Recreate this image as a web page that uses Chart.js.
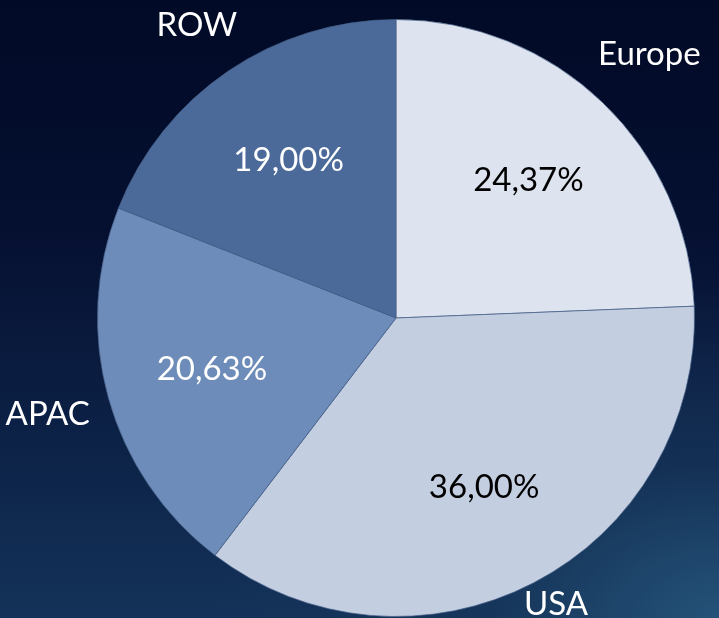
<!DOCTYPE html>
<html>
<head>
<meta charset="utf-8">
<script src="https://cdn.jsdelivr.net/npm/chart.js@4.4.1/dist/chart.umd.min.js"></script>
<style>
    html, body { margin: 0; padding: 0; }
    body {
        width: 719px;
        height: 618px;
        overflow: hidden;
        background:
            radial-gradient(ellipse 70% 55% at 100% 100%, rgba(36, 82, 120, 1) 0%, rgba(24, 56, 92, 0.6) 45%, rgba(10, 30, 60, 0) 100%),
            linear-gradient(180deg, #010a26 0%, #050f30 35%, #0c2146 70%, #143259 100%);
    }
    #wrap { position: relative; width: 719px; height: 618px; }
</style>
</head>
<body>
<div id="wrap"><canvas id="pie" width="719" height="618"></canvas></div>
<script>
// ── Data ────────────────────────────────────────────────────────────────────
const regions = ['Europe', 'USA', 'APAC', 'ROW'];
const shares  = [24.37, 36.00, 20.63, 19.00];

// ── Look ────────────────────────────────────────────────────────────────────
const sliceColors = ['#dde4ef', '#c3cee0', '#6e8cb9', '#4b6a99'];
const pctColors   = ['#000000', '#000000', '#ffffff', '#ffffff'];
const labelFont   = "33px Lato, 'Open Sans', sans-serif";

// draws the percent inside each slice and the region name outside
const sliceLabels = {
    id: 'sliceLabels',
    afterDatasetsDraw(chart) {
        const ctx = chart.ctx;
        const arcs = chart.getDatasetMeta(0).data;
        ctx.save();
        ctx.font = labelFont;
        ctx.textAlign = 'center';
        ctx.textBaseline = 'middle';
        arcs.forEach((arc, i) => {
            const mid = (arc.startAngle + arc.endAngle) / 2;
            const c = Math.cos(mid), s = Math.sin(mid);
            const r = arc.outerRadius;

            // percent inside
            const pct = shares[i].toFixed(2).replace('.', ',') + '%';
            ctx.fillStyle = pctColors[i];
            ctx.fillText(pct, arc.x + c * r * 0.64, arc.y + s * r * 0.64);

            // name outside, box pushed clear of the rim
            const w = ctx.measureText(regions[i]).width;
            const a = w / 2 + 8, b = 17 + 8;
            const d = r + 8 + a * Math.abs(c) + b * Math.abs(s);
            let lx = arc.x + c * d;
            let ly = arc.y + s * d;
            ly = Math.min(ly, chart.height - 14);
            ly = Math.max(ly, 14);
            lx = Math.min(lx, chart.width - w / 2);
            lx = Math.max(lx, w / 2 + 2);
            ctx.fillStyle = '#ffffff';
            ctx.fillText(regions[i], lx, ly);
        });
        ctx.restore();
    }
};

new Chart(document.getElementById('pie'), {
    type: 'pie',
    data: {
        labels: regions,
        datasets: [{
            data: shares,
            backgroundColor: sliceColors,
            borderColor: 'rgba(70, 95, 135, 0.7)',
            borderWidth: 1,
            hoverOffset: 0
        }]
    },
    options: {
        responsive: false,
        animation: false,
        rotation: 0,
        layout: { padding: { left: 97, right: 24, top: 19, bottom: 1 } },
        plugins: {
            legend: { display: false },
            tooltip: { enabled: false }
        }
    },
    plugins: [sliceLabels]
});
</script>
</body>
</html>
